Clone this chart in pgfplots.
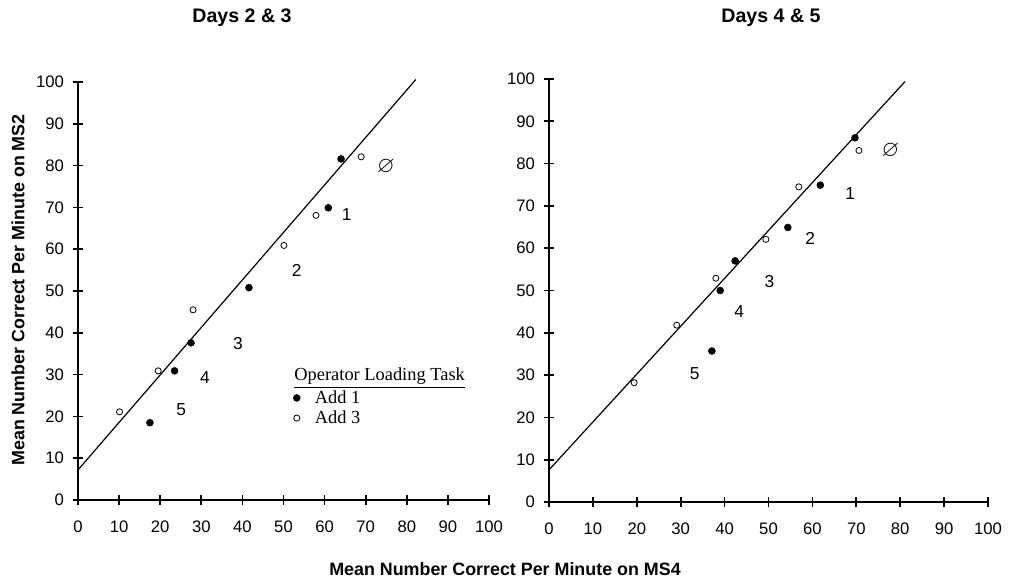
\documentclass[border=0pt]{standalone}
\usepackage{pgfplots}
\pgfplotsset{compat=1.18}
\usepackage{amssymb}
\usepackage{fontspec}
\setmainfont{Liberation Sans}
\newfontfamily\timesfont{Liberation Serif}

% both panels share the same look
\pgfplotsset{
  panel/.style={
    scale only axis,
    anchor=origin,
    xmin=0, xmax=100, ymin=0, ymax=100,
    xtick={0,10,...,100}, ytick={0,10,...,100},
    axis lines=left,
    axis line style={-, line width=1.3pt},
    tick align=center,
    major tick length=8pt,
    tick style={line width=1.3pt, black},
    /pgf/number format/assume math mode=true,
    tick label style={font=\fontsize{12.5}{14}\selectfont},
    xticklabel style={yshift=-8pt},
    yticklabel style={xshift=-3pt},
    clip=false,
  },
  filled/.style={only marks, mark=*, mark size=2.6pt, mark options={fill=black, draw=black}},
  hollow/.style={only marks, mark=o, mark size=2.3pt, mark options={line width=0.6pt, draw=black}},
  fitline/.style={no marks, black, line width=0.9pt},
}
\tikzset{num/.style={font=\fontsize{13}{15}\selectfont}}

\begin{document}
\begin{tikzpicture}
\path (0,0) rectangle (757.5pt,439.5pt);

% ---------- Days 2 & 3
\begin{axis}[panel, at={(58.5pt,64.5pt)}, width=308.25pt, height=313.5pt,
  legend style={draw=none, fill=none, at={(axis cs:52.0,27.2)}, anchor=north west,
    font=\timesfont\fontsize{13.8}{15}\selectfont, row sep=0pt, inner sep=1pt},
  legend cell align=left]
\addplot[fitline, forget plot] coordinates {(0,7.2) (82.2,100.6)};
\addplot[filled] coordinates {(17.5,18.5) (23.5,30.9) (27.5,37.6) (41.6,50.8) (60.9,69.9) (64.0,81.6)};
\addplot[hollow] coordinates {(10.1,21.1) (19.5,30.9) (28.0,45.5) (50.1,60.9) (57.9,68.1) (68.9,82.1)};
\legend{\hspace*{9pt}Add 1, \hspace*{9pt}Add 3}
\node[num] at (axis cs:65.4,68.2) {1};
\node[num] at (axis cs:53.2,55.0) {2};
\node[num] at (axis cs:38.9,37.5) {3};
\node[num] at (axis cs:30.9,29.3) {4};
\node[num] at (axis cs:25.1,21.7) {5};
\node[font=\fontsize{17}{17}\selectfont] at (axis cs:74.9,79.7) {$\varnothing$};
\node[anchor=west, inner sep=0pt, font=\timesfont\fontsize{13.8}{15}\selectfont] at (axis cs:52.6,29.1) {\underline{Operator Loading Task}};
\end{axis}

% ---------- Days 4 & 5
\begin{axis}[panel, at={(411.75pt,63pt)}, width=329.25pt, height=317.25pt]
\addplot[fitline] coordinates {(0,7.6) (81.1,99.4)};
\addplot[filled] coordinates {(37.1,35.7) (39.0,50.0) (42.4,57.0) (54.4,64.9) (61.8,74.9) (69.7,86.1)};
\addplot[hollow] coordinates {(19.4,28.2) (29.1,41.8) (38.0,52.9) (49.4,62.1) (56.9,74.5) (70.6,83.1)};
\node[num] at (axis cs:68.6,73.0) {1};
\node[num] at (axis cs:59.5,62.2) {2};
\node[num] at (axis cs:50.2,52.1) {3};
\node[num] at (axis cs:43.3,45.0) {4};
\node[num] at (axis cs:33.2,30.3) {5};
\node[font=\fontsize{17}{17}\selectfont] at (axis cs:77.8,83.0) {$\varnothing$};
\end{axis}

% titles and shared labels
\node[font=\bfseries\fontsize{14.7}{16}\selectfont] at (181.5pt,426pt) {Days 2 \& 3};
\node[font=\bfseries\fontsize{14.7}{16}\selectfont] at (578.25pt,426pt) {Days 4 \& 5};
\node[font=\bfseries\fontsize{13.4}{15}\selectfont, rotate=90] at (13.5pt,222pt) {Mean Number Correct Per Minute on MS2};
\node[font=\bfseries\fontsize{13.4}{15}\selectfont] at (378.75pt,12.5pt) {Mean Number Correct Per Minute on MS4};
\end{tikzpicture}
\end{document}
